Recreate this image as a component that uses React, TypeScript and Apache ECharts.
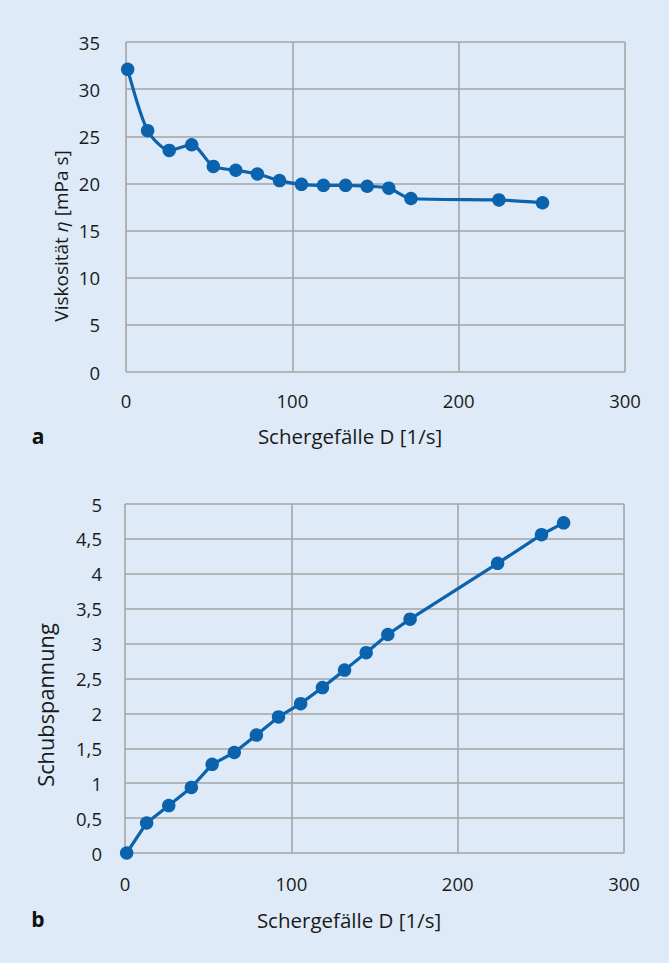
import React, { useEffect, useRef } from "react";
import * as echarts from "echarts";

const shearRateA = [1, 13, 26, 39.5, 52.5, 66, 79, 92.3, 105.5, 118.7, 132, 145, 158, 171.3, 224.2, 250.4];
const viscosity = [32.1, 25.6, 23.5, 24.1, 21.8, 21.4, 21.0, 20.3, 19.9, 19.8, 19.8, 19.7, 19.5, 18.4, 18.25, 17.95];

const shearRateB = [1, 13, 26.3, 39.9, 52.4, 65.7, 79, 92.3, 105.6, 118.7, 132, 145, 158, 171.4, 224, 250.4, 263.7];
const shearStress = [0, 0.43, 0.68, 0.94, 1.27, 1.44, 1.69, 1.95, 2.14, 2.37, 2.62, 2.87, 3.13, 3.35, 4.15, 4.56, 4.73];

const xTitle = "Schergefälle D [1/s]";
const yTitleA = "Viskosität {i|η} [mPa s]";
const yTitleB = "Schubspannung";
const panelLabels = ["a", "b"];

const FONT = "'Open Sans', 'Noto Sans', sans-serif";
const LINE = "#0b63ad";
const GRID = "#a5a5a5";
const TEXT = "#1a1a1a";
const TICK_SIZE = 18.5;
const NAME_SIZE = 20.5;

export default function App() {
  const ref = useRef<HTMLDivElement>(null);
  useEffect(() => {
    document.body.style.margin = "0";
    const chart = echarts.init(ref.current!, null, { renderer: "svg" });
    const axisCommon = {
      axisLine: { show: false },
      axisTick: { show: false },
      splitLine: { show: true, lineStyle: { color: GRID, width: 1.6 } },
    };
    const xAxisBase = (gridIndex: number, margin: number) => ({
      type: "value",
      gridIndex,
      min: 0,
      max: 300,
      interval: 100,
      ...axisCommon,
      axisLabel: { color: TEXT, fontFamily: FONT, fontSize: TICK_SIZE, margin },
    });
    chart.setOption({
      animation: false,
      backgroundColor: "#deeaf7",
      grid: [
        { left: 126, right: 44, top: 42, height: 330 },
        { left: 125, right: 45, top: 504, height: 349 },
      ],
      xAxis: [xAxisBase(0, 19), xAxisBase(1, 21)],
      yAxis: [
        {
          type: "value",
          gridIndex: 0,
          min: 0,
          max: 35,
          interval: 5,
          ...axisCommon,
          axisLabel: { color: TEXT, fontFamily: FONT, fontSize: TICK_SIZE, margin: 26 },
        },
        {
          type: "value",
          gridIndex: 1,
          min: 0,
          max: 5,
          interval: 0.5,
          ...axisCommon,
          axisLabel: {
            color: TEXT,
            fontFamily: FONT,
            fontSize: TICK_SIZE,
            margin: 23,
            formatter: (v: number) => String(v).replace(".", ","),
          },
        },
      ],
      series: [
        {
          type: "line",
          xAxisIndex: 0,
          yAxisIndex: 0,
          data: shearRateA.map((x, i) => [x, viscosity[i]]),
          smooth: 0.25,
          symbol: "circle",
          symbolSize: 13.5,
          lineStyle: { color: LINE, width: 3.2 },
          itemStyle: { color: LINE },
        },
        {
          type: "line",
          xAxisIndex: 1,
          yAxisIndex: 1,
          data: shearRateB.map((x, i) => [x, shearStress[i]]),
          symbol: "circle",
          symbolSize: 13.5,
          lineStyle: { color: LINE, width: 3.2 },
          itemStyle: { color: LINE },
        },
      ],
      graphic: [
        {
          type: "text",
          x: 350,
          y: 436,
          style: { text: xTitle, fontFamily: FONT, fontSize: NAME_SIZE, fill: TEXT, align: "center", verticalAlign: "middle" },
        },
        {
          type: "text",
          x: 349,
          y: 920,
          style: { text: xTitle, fontFamily: FONT, fontSize: NAME_SIZE, fill: TEXT, align: "center", verticalAlign: "middle" },
        },
        {
          type: "text",
          x: 61,
          y: 236,
          rotation: Math.PI / 2,
          style: {
            text: yTitleA,
            fontFamily: FONT,
            fontSize: 19,
            fill: TEXT,
            align: "center",
            verticalAlign: "middle",
            rich: { i: { fontFamily: FONT, fontStyle: "italic", fontSize: 19, fill: TEXT } },
          },
        },
        {
          type: "text",
          x: 45,
          y: 705,
          rotation: Math.PI / 2,
          style: { text: yTitleB, fontFamily: FONT, fontSize: 21.8, fill: TEXT, align: "center", verticalAlign: "middle" },
        },
        {
          type: "text",
          x: 38,
          y: 436,
          style: { text: panelLabels[0], fontFamily: FONT, fontSize: 21, fontWeight: "bold", fill: "#111", align: "center", verticalAlign: "middle" },
        },
        {
          type: "text",
          x: 38,
          y: 919,
          style: { text: panelLabels[1], fontFamily: FONT, fontSize: 21, fontWeight: "bold", fill: "#111", align: "center", verticalAlign: "middle" },
        },
      ],
    });
    return () => chart.dispose();
  }, []);
  return <div ref={ref} style={{ width: 669, height: 963 }} />;
}
